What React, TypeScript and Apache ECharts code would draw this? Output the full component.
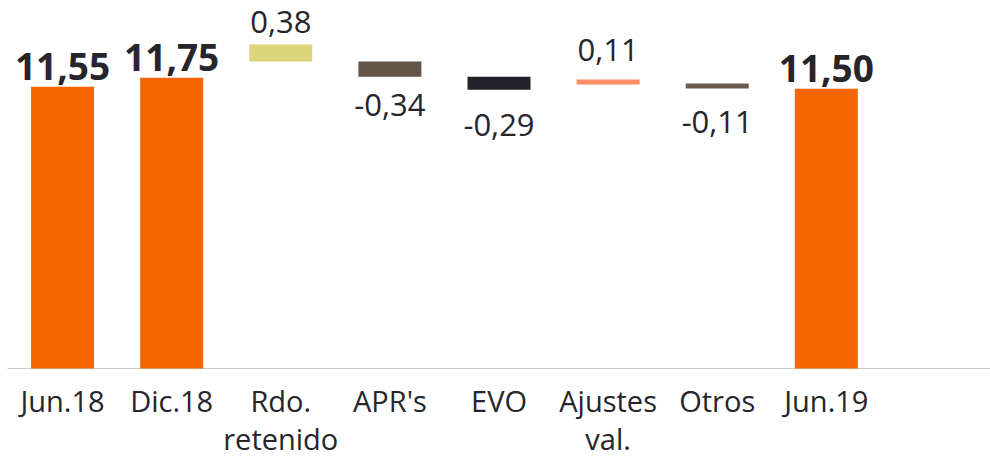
import React, { useEffect, useRef } from "react";
import * as echarts from "echarts";

// ---- data ----
const categories = ["Jun.18", "Dic.18", "Rdo.\nretenido", "APR's", "EVO", "Ajustes\nval.", "Otros", "Jun.19", ""];
// totals (full bars)
const totals: (number | null)[] = [11.55, 11.75, null, null, null, null, null, 11.5, null];
// floating changes: signed value and the lower edge of each floating bar
const changes: (number | null)[] = [null, null, 0.38, -0.34, -0.29, 0.11, -0.11, null, null];
const floatBases: (number | null)[] = [null, null, 12.11, 11.77, 11.48, 11.6, 11.51, null, null];

// ---- style ----
const ORANGE = "#F56600";
const changeColors = [null, null, "#DED47A", "#635548", "#232228", "#FF8F66", "#6A5A4C", null, null];
const labelGaps = [0, 0, 8, 12, 19, 15, 17, 0, 0];
const TEXT = "#25252B";
const FONT = "'Open Sans', 'Noto Sans', sans-serif";

const fmt = (v: number) => v.toFixed(2).replace(".", ",");

export default function App() {
  const ref = useRef<HTMLDivElement>(null);
  useEffect(() => {
    document.body.style.margin = "0";
    if (!ref.current) return;
    const chart = echarts.init(ref.current, null, { renderer: "svg" });
    const option = {
      animation: false,
      grid: { left: 8, right: 0, top: 21.75, bottom: 86.5, containLabel: false },
      xAxis: {
        type: "category",
        data: categories,
        axisLine: { show: true, lineStyle: { color: "#C9C9C9", width: 1 } },
        axisTick: { show: false },
        axisLabel: {
          color: TEXT,
          fontFamily: FONT,
          fontSize: 29,
          lineHeight: 38,
          margin: 12.5,
          interval: 0,
        },
      },
      yAxis: {
        type: "value",
        min: 5.25,
        max: 13,
        show: false,
        splitLine: { show: false },
      },
      series: [
        {
          name: "totals",
          type: "bar",
          barWidth: 63,
          barGap: "-100%",
          data: totals.map((v) => (v === null ? "-" : v)),
          itemStyle: { color: ORANGE },
          label: {
            show: true,
            position: "top",
            distance: 3,
            color: TEXT,
            fontFamily: FONT,
            fontSize: 37,
            fontWeight: "bold",
            formatter: (p: any) => fmt(p.value),
          },
        },
        {
          name: "base",
          type: "bar",
          stack: "w",
          barWidth: 63,
          barGap: "-100%",
          silent: true,
          itemStyle: { color: "transparent" },
          data: floatBases.map((v) => (v === null ? "-" : v)),
        },
        {
          name: "change",
          type: "bar",
          stack: "w",
          barWidth: 63,
          barGap: "-100%",
          data: changes.map((v, i) =>
            v === null
              ? "-"
              : {
                  value: Math.abs(v),
                  itemStyle: { color: changeColors[i] },
                  label: {
                    show: true,
                    position: v >= 0 ? "top" : "bottom",
                    distance: labelGaps[i],
                    color: TEXT,
                    fontFamily: FONT,
                    fontSize: 31,
                    formatter: () => fmt(v),
                  },
                }
          ),
        },
      ],
    };
    chart.setOption(option as any);
    return () => chart.dispose();
  }, []);
  return <div ref={ref} style={{ width: 990, height: 457, position: "absolute", left: 0, top: 0 }} />;
}
